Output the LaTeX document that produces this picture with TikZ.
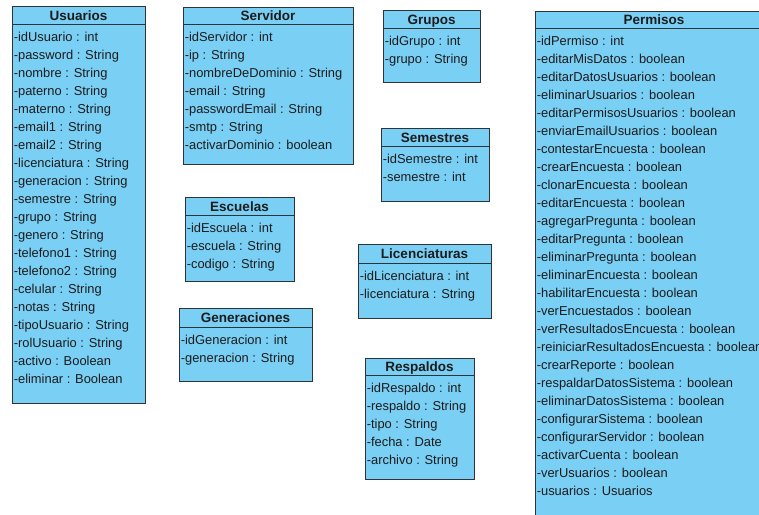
\documentclass[tikz,border=0pt]{standalone}
\usepackage{fontspec}
\setmainfont{Liberation Sans}
\definecolor{boxfill}{HTML}{7ACFF5}
\definecolor{boxline}{HTML}{2E3338}
\definecolor{shadowc}{HTML}{A0A0A0}
\definecolor{textc}{HTML}{1C1C1C}
\tikzset{
  classbox/.style={draw=boxline, fill=boxfill, line width=1pt, inner sep=0pt, outer sep=0pt, rectangle},
  shadowbox/.style={fill=shadowc},
  sepline/.style={draw=boxline, line width=1pt},
  titletext/.style={inner sep=0pt, text=textc, font=\fontsize{13.5}{16}\selectfont\bfseries},
  rowtext/.style={inner sep=0pt, text=textc, font=\fontsize{12.9}{15}\selectfont}
}
\newcommand{\umlclass}[8]{%
  \fill[shadowbox] (#2+1.3,#3+1.3) rectangle (#4+1.3,#5+1.3);
  \node[classbox, minimum width={(#4-(#2))*1pt}, minimum height={(#5-(#3))*1pt}, anchor=north west] (#1) at (#2,#3) {};
  \draw[sepline] (#2,#6) -- (#4,#6);
  \node[titletext, anchor=base] (#1-title) at ({(#2+#4)/2},{(#3+#6)/2+5.4}) {#7};
  \foreach \r [count=\i from 0] in {#8} {
    \node[rowtext, anchor=base west] (#1-\i) at (#2+1.6, #6+12+18*\i+5.8) {\r};
  }%
}
\begin{document}
\begin{tikzpicture}[x=1pt,y=-1pt]
\useasboundingbox (0,0) rectangle (759,514);
\clip (0,0) rectangle (759,514);
\fill[white] (0,0) rectangle (759,514);
\umlclass{usuarios}{12}{6}{145}{403}{24}{Usuarios}{-idUsuario : int,-password : String,-nombre : String,-paterno : String,-materno : String,-email1 : String,-email2 : String,-licenciatura : String,-generacion : String,-semestre : String,-grupo : String,-genero : String,-telefono1 : String,-telefono2 : String,-celular : String,-notas : String,-tipoUsuario : String,-rolUsuario : String,-activo : Boolean,-eliminar : Boolean}
\umlclass{servidor}{183}{7}{353}{164}{24}{Servidor}{-idServidor : int,-ip : String,-nombreDeDominio : String,-email : String,-passwordEmail : String,-smtp : String,-activarDominio : boolean}
\umlclass{grupos}{383}{10}{480}{82}{28}{Grupos}{-idGrupo : int,-grupo : String}
\umlclass{semestres}{381}{128}{489}{201}{146}{Semestres}{-idSemestre : int,-semestre : int}
\umlclass{escuelas}{185}{197}{294}{281}{215}{Escuelas}{-idEscuela : int,-escuela : String,-codigo : String}
\umlclass{generaciones}{179}{308}{312}{381}{327}{Generaciones}{-idGeneracion : int,-generacion : String}
\umlclass{licenciaturas}{358}{244}{491}{318}{263}{Licenciaturas}{-idLicenciatura : int,-licenciatura : String}
\umlclass{respaldos}{365}{358}{474}{479}{375}{Respaldos}{-idRespaldo : int,-respaldo : String,-tipo : String,-fecha : Date,-archivo : String}
\umlclass{permisos}{535}{11}{773}{530}{28}{Permisos}{-idPermiso : int,-editarMisDatos : boolean,-editarDatosUsuarios : boolean,-eliminarUsuarios : boolean,-editarPermisosUsuarios : boolean,-enviarEmailUsuarios : boolean,-contestarEncuesta : boolean,-crearEncuesta : boolean,-clonarEncuesta : boolean,-editarEncuesta : boolean,-agregarPregunta : boolean,-editarPregunta : boolean,-eliminarPregunta : boolean,-eliminarEncuesta : boolean,-habilitarEncuesta : boolean,-verEncuestados : boolean,-verResultadosEncuesta : boolean,-reiniciarResultadosEncuesta : boolean,-crearReporte : boolean,-respaldarDatosSistema : boolean,-eliminarDatosSistema : boolean,-configurarSistema : boolean,-configurarServidor : boolean,-activarCuenta : boolean,-verUsuarios : boolean,-usuarios : Usuarios}
\end{tikzpicture}
\end{document}
